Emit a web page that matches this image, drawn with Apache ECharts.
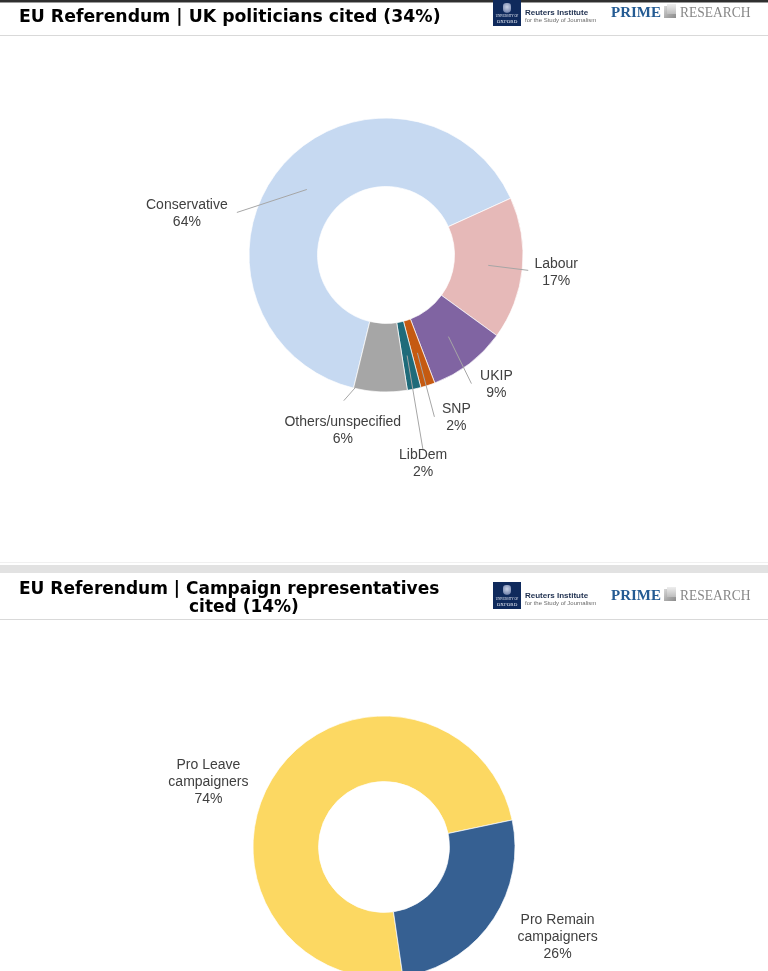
<!DOCTYPE html>
<html>
<head>
<meta charset="utf-8">
<script src="https://cdn.jsdelivr.net/npm/echarts@6/dist/echarts.min.js"></script>
<style>
  html, body { margin: 0; padding: 0; background: #fff; }
  body { width: 768px; height: 971px; position: relative; overflow: hidden; }
  #chart { position: absolute; left: 0; top: 0; width: 768px; height: 971px; }
  .abs { position: absolute; white-space: nowrap; }
  .title { font-family: "DejaVu Sans", Verdana, sans-serif; font-weight: bold; font-size: 17.3px; color: #000; line-height: 18px; }
  .oxf { background: #0f2a5c; width: 28px; }
  .crest { position: absolute; left: 10px; top: 3px; width: 8px; height: 10px; border-radius: 4px 4px 5px 5px; background: radial-gradient(circle at 50% 40%, #c9d2e6 0, #7d8db3 70%, #0f2a5c 100%); }
  .oxt { position: absolute; left: 0; width: 28px; text-align: center; color: #e8ecf5; font-family: "Liberation Serif", serif; }
  .rt1 { font-family: "Liberation Sans", Arial, sans-serif; font-weight: bold; font-size: 8px; color: #1c2d4d; line-height: 9px; }
  .rt2 { font-family: "Liberation Sans", Arial, sans-serif; font-size: 6px; color: #6b6b6b; line-height: 7px; }
  .prime { font-family: "Liberation Serif", "Times New Roman", serif; font-weight: bold; font-size: 15px; color: #245b93; line-height: 16px; }
  .icon { width: 12px; height: 12px; background: linear-gradient(135deg, #d9d9d9 0%, #a9a9a9 55%, #8c8c8c 100%); }
  .icon2 { position: absolute; left: 3px; top: -2px; width: 9px; height: 10px; background: linear-gradient(180deg, #eeeeee, #bdbdbd); }
  .research { font-family: "Liberation Serif", "Times New Roman", serif; font-size: 15px; color: #878787; line-height: 16px; transform: scaleX(0.9); transform-origin: 0 50%; }
  .hline { position: absolute; left: 0; width: 768px; height: 1px; background: #d9d9d9; }
</style>
</head>
<body>
<div id="chart"></div>

<!-- header 1 -->
<div class="abs" style="left:0;top:0;width:768px;height:2px;background:#2f2f2f"></div>
<div class="abs" style="left:0;top:2px;width:768px;height:1px;background:#9a9a9a"></div>
<div class="abs title" style="left:19px;top:7px">EU Referendum | UK politicians cited (34%)</div>
<div class="abs oxf" style="left:493px;top:0px;height:26px"><div class="crest"></div><div class="oxt" style="top:15px;font-size:3px;line-height:3px">UNIVERSITY OF</div><div class="oxt" style="top:19px;font-size:5px;line-height:5px">OXFORD</div></div>
<div class="abs rt1" style="left:525px;top:8px">Reuters Institute</div>
<div class="abs rt2" style="left:525px;top:17px">for the Study of Journalism</div>
<div class="abs prime" style="left:611px;top:4px">PRIME</div>
<div class="abs icon" style="left:664px;top:6px"><div class="icon2"></div></div>
<div class="abs research" style="left:680px;top:4px">RESEARCH</div>
<div class="hline" style="top:35px"></div>

<!-- separator -->
<div class="abs" style="left:0;top:562px;width:768px;height:1px;background:#f0f0f0"></div>
<div class="abs" style="left:0;top:565px;width:768px;height:8px;background:#e2e2e2"></div>

<!-- header 2 -->
<div class="abs title" style="left:19px;top:579px;font-size:17px">EU Referendum | Campaign representatives</div>
<div class="abs title" style="left:189px;top:597px;font-size:17px">cited (14%)</div>
<div class="abs oxf" style="left:493px;top:582px;height:27px"><div class="crest"></div><div class="oxt" style="top:16px;font-size:3px;line-height:3px">UNIVERSITY OF</div><div class="oxt" style="top:20px;font-size:5px;line-height:5px">OXFORD</div></div>
<div class="abs rt1" style="left:525px;top:591px">Reuters Institute</div>
<div class="abs rt2" style="left:525px;top:600px">for the Study of Journalism</div>
<div class="abs prime" style="left:611px;top:587px">PRIME</div>
<div class="abs icon" style="left:664px;top:589px"><div class="icon2"></div></div>
<div class="abs research" style="left:680px;top:587px">RESEARCH</div>
<div class="hline" style="top:619px"></div>

<script>
// ---- data ----
const partyNames = ['Conservative', 'Labour', 'UKIP', 'SNP', 'LibDem', 'Others/unspecified'];
const partyShares = [64.4, 16.8, 9.2, 1.7, 1.6, 6.3];
const campaignNames = ['Pro Leave\ncampaigners', 'Pro Remain\ncampaigners'];
const campaignShares = [74, 26];

// ---- styles ----
const partyColors = ['#c6d9f1', '#e6b9b8', '#8064a2', '#c55a11', '#1f6b7a', '#a6a6a6'];
const campaignColors = ['#fcd862', '#366092'];
// label placement relative to the slice anchor (mid-ring, mid-angle): [labelDx, labelDy, lineEndDx, lineEndDy]
const partyLabelOffsets = [[-120, 24, -70, 23], [68, 7, 40, 5], [48, 48, 23, 47], [39, 65, 17, 64], [16, 108, 16, 95], [-39, 73, -38, 43]];
const campaignLabelOffsets = [[-95, -9], [93, 34]];

const labelText = {
  color: '#404040', fontSize: 14, lineHeight: 17,
  fontFamily: '"Liberation Sans", Arial, sans-serif', align: 'center'
};

function donut(center, radius, startAngle, names, values, colors) {
  return {
    type: 'pie', z: 2, center: center, radius: radius, startAngle: startAngle, clockwise: true,
    silent: true, animation: false, avoidLabelOverlap: false,
    label: { show: false }, labelLine: { show: false },
    itemStyle: { borderColor: '#ffffff', borderWidth: 0.7 },
    emphasis: { disabled: true },
    data: names.map((n, i) => ({ name: n, value: values[i], itemStyle: { color: colors[i] } }))
  };
}

function labelCarrier(center, r, startAngle, names, values, offsets, showLine) {
  return {
    type: 'pie', z: 10, center: center, radius: [0, r], startAngle: startAngle, clockwise: true,
    silent: true, animation: false, avoidLabelOverlap: false,
    itemStyle: { color: 'rgba(0,0,0,0)', borderWidth: 0 },
    emphasis: { disabled: true },
    label: Object.assign({ show: true, position: 'outside',
      formatter: p => p.name + '\n' + Math.round(p.value) + '%' }, labelText),
    labelLine: { show: true, length: 10, length2: 0,
      lineStyle: { color: '#a6a6a6', width: 1, opacity: showLine ? 1 : 0 } },
    labelLayout: function (p) {
      const a = p.labelLinePoints[0];
      const o = offsets[p.dataIndex];
      const res = { x: a[0] + o[0], y: a[1] + o[1], align: 'center', verticalAlign: 'middle' };
      if (showLine) {
        const e = [a[0] + o[2], a[1] + o[3]];
        res.labelLinePoints = [[a[0], a[1]], e, [e[0], e[1]]];
      }
      return res;
    },
    data: names.map((n, i) => ({ name: n, value: values[i] }))
  };
}

const chart = echarts.init(document.getElementById('chart'), null, { renderer: 'canvas' });
chart.setOption({
  animation: false,
  series: [
    donut([386, 255], [68.5, 137], 256.3, partyNames, partyShares, partyColors),
    labelCarrier([386, 255], 102.75, 256.3, partyNames, partyShares, partyLabelOffsets, true),
    donut([384, 847], [65.5, 131], 278.3, campaignNames, campaignShares, campaignColors),
    labelCarrier([384, 847], 98.25, 278.3, campaignNames, campaignShares, campaignLabelOffsets, false)
  ]
});
</script>
</body>
</html>
